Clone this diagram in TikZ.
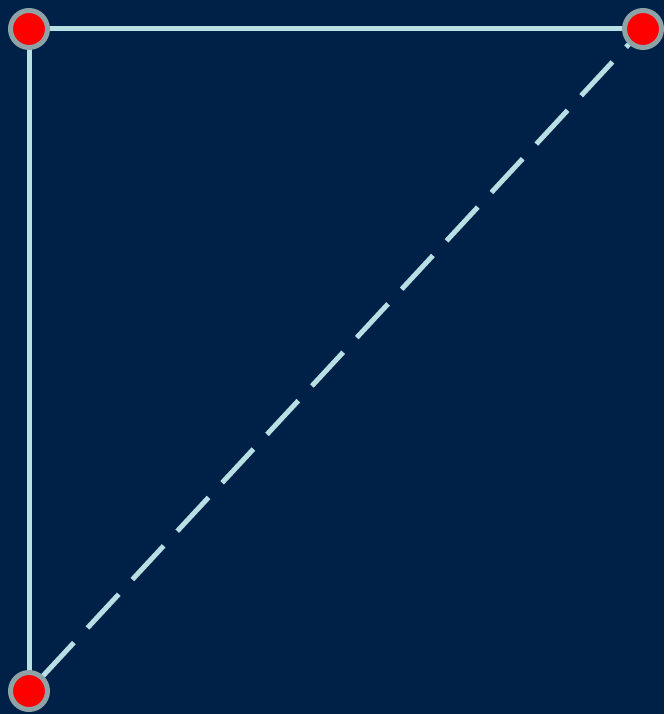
\documentclass[tikz,border=0pt]{standalone}
\usetikzlibrary{backgrounds}
\definecolor{navy}{HTML}{002147}
\definecolor{edgeblue}{HTML}{B8E0E4}
\definecolor{ringgray}{HTML}{8EA3A6}
\pgfdeclarelayer{edges}
\pgfsetlayers{background,edges,main}
\tikzset{
  vertex/.style={circle, fill=red, draw=ringgray, line width=5pt, minimum size=37pt, inner sep=0pt},
  edge/.style={edgeblue, line width=5pt},
}
\begin{document}
\begin{tikzpicture}[x=1pt,y=-1pt]
\begin{pgfonlayer}{background}
\fill[navy] (0,0) rectangle (664,714);
\end{pgfonlayer}
\useasboundingbox (0,0) rectangle (664,714);
\path node[vertex] (TL) at (29,29) {}
node[vertex] (TR) at (643,29) {}
node[vertex] (BL) at (29,691) {}
;
\begin{pgfonlayer}{edges}
\draw[edge]   (TL.center) -- (TR.center);
\draw[edge]   (TL.center) -- (BL.center);
\draw[edge, dash pattern=on 46pt off 20pt, dash phase=46pt]   (BL.center) -- (TR.center);
\end{pgfonlayer}
\end{tikzpicture}
\end{document}
